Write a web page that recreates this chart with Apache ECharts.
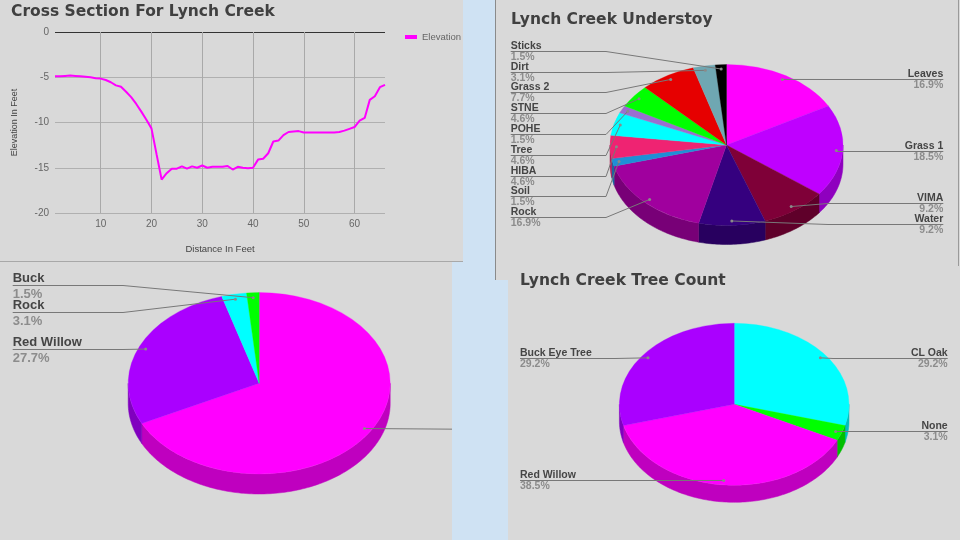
<!DOCTYPE html>
<html>
<head>
<meta charset="utf-8">
<script src="https://cdn.jsdelivr.net/npm/echarts@6/dist/echarts.min.js"></script>
<style>
  html, body { margin: 0; padding: 0; }
  body { width: 960px; height: 540px; background: #cfe2f3; position: relative; overflow: hidden; }
  .panel { position: absolute; background: #d9d9d9; }
  #panelA { left: 0; top: 0; width: 463px; height: 261px; border-bottom: 1px solid #a8a8a8; }
  #panelB { left: 495px; top: 0; width: 465px; height: 280px; border-left: 1px solid #8a8a8a; box-sizing: border-box; }
  #panelC { left: 0; top: 262px; width: 452px; height: 278px; overflow: hidden; }
  #panelD { left: 508px; top: 280px; width: 452px; height: 260px; }
  #edgeB { position: absolute; left: 958px; top: 0; width: 1px; height: 266px; background: #9a9a9a; }
  #lineChart { position: absolute; left: 0; top: 0; width: 463px; height: 261px; }
  #pieC { position: absolute; left: 0; top: 0; width: 620px; height: 278px; }
  #rightCharts { position: absolute; left: 495px; top: 0; width: 465px; height: 540px; }
</style>
</head>
<body>
<div class="panel" id="panelA"><div id="lineChart"></div></div>
<div class="panel" id="panelB"></div>
<div class="panel" id="panelD"></div>
<div id="edgeB"></div>
<div class="panel" id="panelC"><div id="pieC"></div></div>
<div id="rightCharts"></div>
<script>
// cross section
const distance = [1, 2, 3, 4, 5, 6, 7, 8, 9, 10, 11, 12, 13, 14, 15, 16, 17, 18, 19, 20,
  21, 22, 23, 24, 25, 26, 27, 28, 29, 30, 31, 32, 33, 34, 35, 36, 37, 38, 39, 40,
  41, 42, 43, 44, 45, 46, 47, 48, 49, 50, 51, 52, 53, 54, 55, 56, 57, 58, 59, 60,
  61, 62, 63, 64, 65, 66]
const elevation = [-4.9, -4.9, -4.85, -4.8, -4.85, -4.9, -4.95, -5.0, -5.1, -5.15,
  -5.3, -5.55, -5.9, -6.05, -6.6, -7.2, -7.95, -8.8, -9.7, -10.65,
  -13.5, -16.3, -15.6, -15.1, -15.1, -14.85, -15.1, -14.85, -15.0, -14.75,
  -15.0, -14.9, -14.9, -14.9, -14.8, -15.2, -14.9, -15.0, -15.05, -15.0,
  -14.1, -14.0, -13.4, -12.1, -12.0, -11.4, -11.05, -11.0, -10.95, -11.1,
  -11.1, -11.1, -11.1, -11.1, -11.1, -11.1, -11.05, -10.9, -10.7, -10.5,
  -9.8, -9.5, -7.5, -7.1, -6.1, -5.85]
const yTicks = [-20, -15, -10, -5, 0]

// understory counts
const understoryNames = ['Leaves', 'Grass 1', 'VIMA', 'Water', 'Rock', 'Soil', 'HIBA', 'Tree', 'POHE', 'STNE', 'Grass 2', 'Dirt', 'Sticks']
const understoryCounts = [11, 12, 6, 6, 11, 1, 3, 3, 1, 3, 5, 2, 1]
const understoryColors = ['#ff00ff', '#bf00ff', '#7f0038', '#35007f', '#a0009e', '#1e8fd6', '#ef2372', '#00ffff', '#9a6fd0', '#00ff00', '#e60000', '#6fa7b2', '#000000']

// ground cover (right label is cut off in the source)
const groundNames = ['Other', 'Red Willow', 'Rock', 'Buck']
const groundCounts = [44, 18, 2, 1]
const groundColors = ['#ff00ff', '#aa00ff', '#00ffff', '#00ff00']

// tree count
const treeNames = ['CL Oak', 'None', 'Red Willow', 'Buck Eye Tree']
const treeCounts = [19, 2, 25, 19]
const treeColors = ['#00ffff', '#00ff00', '#ff00ff', '#aa00ff']

const titleStyle = { fontFamily: 'DejaVu Sans', fontWeight: 'bold', fontSize: 15.5, color: '#404040' }
const labelFont = '"Liberation Sans", Arial, sans-serif'

function darken(hex, f) {
  const n = parseInt(hex.slice(1), 16)
  const r = Math.round(((n >> 16) & 255) * f)
  const g = Math.round(((n >> 8) & 255) * f)
  const b = Math.round((n & 255) * f)
  return `rgb(${r},${g},${b})`
}

// slice angles, label dots and label rows (google-style 3d pie)
function layoutPie(p) {
  const total = p.values.reduce((a, b) => a + b, 0)
  let cum = 0
  const slices = p.values.map((v, i) => {
    const a1 = cum / total * Math.PI * 2
    cum += v
    const a2 = cum / total * Math.PI * 2
    const mid = (a1 + a2) / 2
    const dot = [p.cx + p.rx * p.dotR * Math.sin(mid), p.cy - p.ry * p.dotR * Math.cos(mid)]
    return { i, a1, a2, mid, dot, right: Math.sin(mid) >= 0, pct: (v / total * 100).toFixed(1) + '%' }
  })
  ;[true, false].forEach((side) => {
    const group = slices.filter((s) => s.right === side).sort((a, b) => a.dot[1] - b.dot[1])
    const blocks = []
    group.forEach((s, k) => {
      blocks.push({ sum: s.dot[1] - k * p.gap, n: 1, items: [s] })
      while (blocks.length > 1) {
        const b = blocks[blocks.length - 1]
        const a = blocks[blocks.length - 2]
        if (a.sum / a.n > b.sum / b.n) {
          a.sum += b.sum; a.n += b.n; a.items = a.items.concat(b.items); blocks.pop()
        } else break
      }
    })
    let k = 0
    blocks.forEach((b) => {
      const m = b.sum / b.n
      b.items.forEach((s) => { s.ly = m + k * p.gap; k++ })
    })
    let prev = -Infinity
    group.forEach((s) => {
      s.ly = Math.max(s.ly, p.minY ?? -Infinity, prev + p.gap)
      prev = s.ly
    })
  })
  return slices
}

function pieSeries(p) {
  const slices = layoutPie(p)
  const pt = (a, dy) => [p.cx + p.rx * Math.sin(a), p.cy - p.ry * Math.cos(a) + dy]
  const side = {
    type: 'custom', coordinateSystem: 'none', silent: true, data: p.values,
    renderItem: (params) => {
      const s = slices[params.dataIndex]
      const lo = Math.max(s.a1, Math.PI / 2)
      const hi = Math.min(s.a2, Math.PI * 1.5)
      if (hi <= lo) return null
      const steps = Math.max(2, Math.ceil((hi - lo) / 0.02))
      const pts = []
      for (let k = 0; k <= steps; k++) pts.push(pt(lo + (hi - lo) * k / steps, 0))
      for (let k = steps; k >= 0; k--) pts.push(pt(lo + (hi - lo) * k / steps, p.depth))
      const c = darken(p.colors[params.dataIndex], 0.75)
      return { type: 'polygon', shape: { points: pts }, style: { fill: c, stroke: c, lineWidth: 0.5 } }
    }
  }
  const top = {
    type: 'custom', coordinateSystem: 'none', silent: true, data: p.values,
    renderItem: (params) => {
      const s = slices[params.dataIndex]
      const c = p.colors[params.dataIndex]
      return {
        type: 'sector', x: p.cx, y: p.cy, scaleY: p.ry / p.rx,
        shape: { cx: 0, cy: 0, r: p.rx, r0: 0, startAngle: s.a1 - Math.PI / 2, endAngle: s.a2 - Math.PI / 2, clockwise: true },
        style: { fill: c, stroke: c, lineWidth: 0.4 }
      }
    }
  }
  const labels = {
    type: 'custom', coordinateSystem: 'none', silent: true, data: p.values,
    renderItem: (params) => {
      const s = slices[params.dataIndex]
      const [dx, dy] = s.dot
      const ly = Math.round(s.ly) + 0.5
      let bx, ex, align
      if (s.right) { bx = Math.max(p.bendRight, dx); ex = p.labelRight; align = 'right' }
      else { bx = Math.min(p.bendLeft, dx); ex = p.labelLeft; align = 'left' }
      return {
        type: 'group',
        children: [
          { type: 'polyline', shape: { points: [[dx, dy], [bx, ly], [ex, ly]] }, style: { stroke: '#787878', lineWidth: 1, fill: null } },
          { type: 'circle', shape: { cx: dx, cy: dy, r: 1.5 }, style: { fill: '#8a8a8a' } },
          { type: 'text', x: ex, y: ly + p.nameDy, style: { text: p.names[params.dataIndex], fill: '#454545', font: `bold ${p.fs}px ${labelFont}`, align, verticalAlign: 'middle' } },
          { type: 'text', x: ex, y: ly + p.pctDy, style: { text: s.pct, fill: '#8c8c8c', font: `bold ${p.fs}px ${labelFont}`, align, verticalAlign: 'middle' } }
        ]
      }
    }
  }
  return [side, top, labels]
}

// line chart
const lineChart = echarts.init(document.getElementById('lineChart'))
const tenths = (i, v) => Number(v) % 10 === 0
lineChart.setOption({
  animation: false,
  title: { text: 'Cross Section For Lynch Creek', left: 11, top: 4, padding: 0, textStyle: titleStyle },
  legend: {
    data: ['Elevation'], left: 400, top: 27, icon: 'rect', itemWidth: 12, itemHeight: 4, itemGap: 5,
    textStyle: { fontSize: 9.5, color: '#666', fontFamily: labelFont }
  },
  grid: { left: 55, top: 32, width: 330, height: 181 },
  xAxis: {
    type: 'category', data: distance, boundaryGap: false,
    name: 'Distance In Feet', nameLocation: 'middle', nameGap: 31,
    nameTextStyle: { fontSize: 9.5, color: '#444', fontFamily: labelFont },
    axisLine: { show: false }, axisTick: { show: false },
    axisLabel: { interval: tenths, fontSize: 10, color: '#666', margin: 6, fontFamily: labelFont },
    splitLine: { show: true, interval: tenths, lineStyle: { color: '#a9a9a9' } }
  },
  yAxis: {
    type: 'value', min: yTicks[0], max: yTicks[yTicks.length - 1], interval: 5,
    name: 'Elevation In Feet', nameLocation: 'middle', nameGap: 36, nameRotate: 90,
    nameTextStyle: { fontSize: 9, color: '#444', fontFamily: labelFont },
    axisLine: { show: false }, axisTick: { show: false },
    axisLabel: { fontSize: 10, color: '#666', margin: 6, fontFamily: labelFont },
    splitLine: { lineStyle: { color: ['#b0b0b0', '#b0b0b0', '#b0b0b0', '#b0b0b0', '#333333'] } }
  },
  series: [{
    name: 'Elevation', type: 'line', data: elevation, symbol: 'none',
    lineStyle: { color: '#ff00ff', width: 2 }, itemStyle: { color: '#ff00ff' }
  }]
})

// bottom-left pie (canvas wider than the panel, right label cut off)
const pieC = echarts.init(document.getElementById('pieC'))
pieC.setOption({
  animation: false,
  series: pieSeries({
    names: groundNames, values: groundCounts, colors: groundColors,
    cx: 259.2, cy: 121.3, rx: 131, ry: 90.7, depth: 20, dotR: 0.945,
    labelLeft: 12.7, labelRight: 590, bendLeft: 123, bendRight: 500,
    fs: 13, gap: 27.7, nameDy: -6.8, pctDy: 8.6
  })
})

// right side: understory + tree count
const right = echarts.init(document.getElementById('rightCharts'))
right.setOption({
  animation: false,
  title: [
    { text: 'Lynch Creek Understoy', left: 16, top: 12, padding: 0, textStyle: titleStyle },
    { text: 'Lynch Creek Tree Count', left: 25, top: 273, padding: 0, textStyle: titleStyle }
  ],
  series: [
    ...pieSeries({
      names: understoryNames, values: understoryCounts, colors: understoryColors,
      cx: 231.5, cy: 145, rx: 116.5, ry: 80.5, depth: 19, dotR: 0.945,
      labelLeft: 15.7, labelRight: 448.3, bendLeft: 111, bendRight: 333,
      fs: 10.5, gap: 20.8, minY: 50.7, nameDy: -5.6, pctDy: 5.4
    }),
    ...pieSeries({
      names: treeNames, values: treeCounts, colors: treeColors,
      cx: 239.2, cy: 404.3, rx: 114.8, ry: 81, depth: 17, dotR: 0.945,
      labelLeft: 25, labelRight: 452.7, bendLeft: 120, bendRight: 338,
      fs: 10.5, gap: 20.8, nameDy: -5.8, pctDy: 5.6
    })
  ]
})
</script>
</body>
</html>
